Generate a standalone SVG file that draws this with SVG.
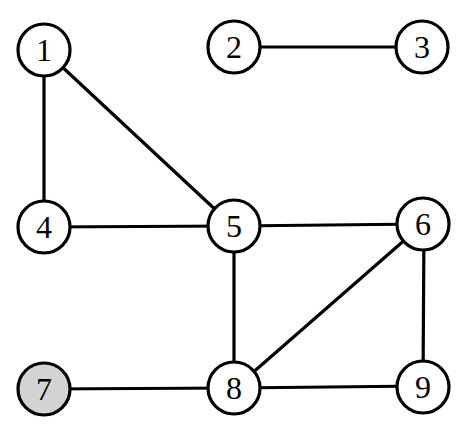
<svg xmlns="http://www.w3.org/2000/svg" width="470" height="433" viewBox="0 0 470 433">
<style>
.e{stroke:#000;stroke-width:3.2;fill:none}
.n{fill:#fff;stroke:#000;stroke-width:3.2}
.g{fill:#d3d3d3}
text{font-family:"Liberation Serif","DejaVu Serif",serif;font-size:32px;text-anchor:middle;dominant-baseline:central;fill:#000}
</style>
<rect width="470" height="433" fill="#fff"/>
<g id="edges">
<line class="e" x1="44" y1="50" x2="44" y2="227"/>
<line class="e" x1="44" y1="50" x2="234" y2="227"/>
<line class="e" x1="234" y1="47" x2="422" y2="47"/>
<line class="e" x1="44" y1="227" x2="234" y2="226"/>
<line class="e" x1="234" y1="226" x2="423" y2="224"/>
<line class="e" x1="234" y1="226" x2="234" y2="389"/>
<line class="e" x1="423" y1="224" x2="234" y2="389"/>
<line class="e" x1="424" y1="224" x2="423" y2="387"/>
<line class="e" x1="44" y1="389" x2="234" y2="388"/>
<line class="e" x1="234" y1="388" x2="423" y2="386"/>
</g>
<g id="n1"><circle class="n" cx="44" cy="50" r="26"/><text x="44" y="50">1</text></g>
<g id="n2"><circle class="n" cx="234" cy="47" r="26"/><text x="234" y="47">2</text></g>
<g id="n3"><circle class="n" cx="422" cy="47" r="26"/><text x="422" y="47">3</text></g>
<g id="n4"><circle class="n" cx="44" cy="227" r="26"/><text x="44" y="227">4</text></g>
<g id="n5"><circle class="n" cx="234" cy="226" r="26"/><text x="234" y="226">5</text></g>
<g id="n6"><circle class="n" cx="423" cy="224" r="26"/><text x="423" y="224">6</text></g>
<g id="n7"><circle class="n g" cx="44" cy="389" r="26"/><text x="44" y="389">7</text></g>
<g id="n8"><circle class="n" cx="234" cy="388" r="26"/><text x="234" y="388">8</text></g>
<g id="n9"><circle class="n" cx="423" cy="387" r="26"/><text x="423" y="387">9</text></g>
</svg>
